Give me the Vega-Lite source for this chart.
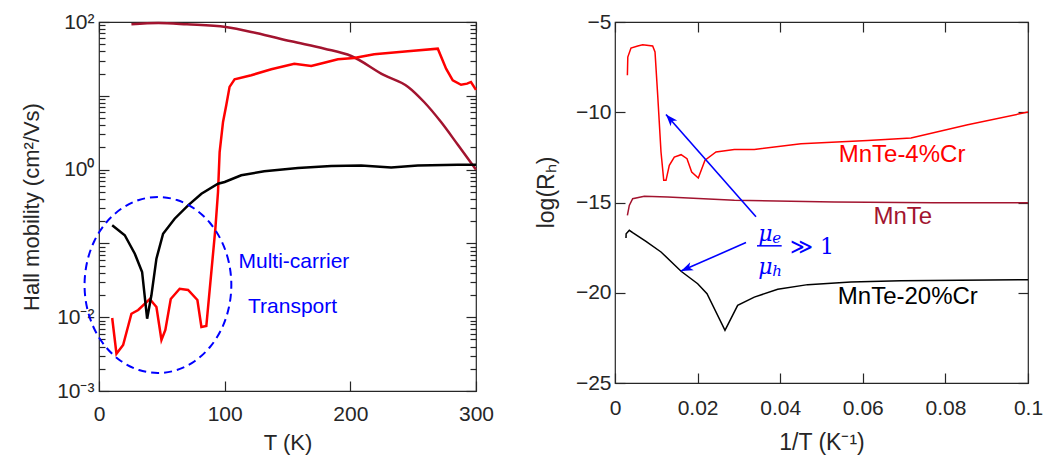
{
  "$schema": "https://vega.github.io/schema/vega-lite/v6.json",
  "padding": {"left": 19, "top": 10, "right": 0, "bottom": 0},
  "background": "white",
  "bounds": "flush",
  "spacing": 139,
  "config": {
    "axis": {"domain": false, "grid": false, "labelFont": "Liberation Sans", "labelFontSize": 21, "labelColor": "#262626", "tickColor": "#262626", "tickWidth": 1.2, "titleFont": "Liberation Sans", "titleFontSize": 22, "titleFontWeight": "normal", "titleColor": "#262626"},
    "view": {"stroke": "#262626", "strokeWidth": 1.2}
  },
  "datasets": {
    "left": [
      {"s": "MnTe", "T": 25.8, "mu": 93},
      {"s": "MnTe", "T": 47.3, "mu": 97},
      {"s": "MnTe", "T": 70, "mu": 93},
      {"s": "MnTe", "T": 100.8, "mu": 85.5},
      {"s": "MnTe", "T": 125, "mu": 71},
      {"s": "MnTe", "T": 153, "mu": 54.7},
      {"s": "MnTe", "T": 179.5, "mu": 43.5},
      {"s": "MnTe", "T": 200.7, "mu": 34.6},
      {"s": "MnTe", "T": 226.9, "mu": 19},
      {"s": "MnTe", "T": 246, "mu": 13.2},
      {"s": "MnTe", "T": 258.7, "mu": 8.24},
      {"s": "MnTe", "T": 272.2, "mu": 4.41},
      {"s": "MnTe", "T": 285.7, "mu": 2.15},
      {"s": "MnTe", "T": 300, "mu": 1.0},
      {"s": "MnTe-4%Cr", "T": 10.5, "mu": 0.00975},
      {"s": "MnTe-4%Cr", "T": 13.9, "mu": 0.0032},
      {"s": "MnTe-4%Cr", "T": 19.2, "mu": 0.0042},
      {"s": "MnTe-4%Cr", "T": 25.8, "mu": 0.01114},
      {"s": "MnTe-4%Cr", "T": 31.2, "mu": 0.01253},
      {"s": "MnTe-4%Cr", "T": 40.4, "mu": 0.01766},
      {"s": "MnTe-4%Cr", "T": 45.7, "mu": 0.01375},
      {"s": "MnTe-4%Cr", "T": 49.7, "mu": 0.00491},
      {"s": "MnTe-4%Cr", "T": 52.8, "mu": 0.00671},
      {"s": "MnTe-4%Cr", "T": 57.1, "mu": 0.01766},
      {"s": "MnTe-4%Cr", "T": 64.2, "mu": 0.0243},
      {"s": "MnTe-4%Cr", "T": 70.9, "mu": 0.0234},
      {"s": "MnTe-4%Cr", "T": 78.3, "mu": 0.0171},
      {"s": "MnTe-4%Cr", "T": 81.5, "mu": 0.00736},
      {"s": "MnTe-4%Cr", "T": 85.4, "mu": 0.0076},
      {"s": "MnTe-4%Cr", "T": 92.6, "mu": 0.158},
      {"s": "MnTe-4%Cr", "T": 94.7, "mu": 0.497},
      {"s": "MnTe-4%Cr", "T": 96, "mu": 1.73},
      {"s": "MnTe-4%Cr", "T": 98.7, "mu": 4.42},
      {"s": "MnTe-4%Cr", "T": 101.3, "mu": 7.5},
      {"s": "MnTe-4%Cr", "T": 103.9, "mu": 13.2},
      {"s": "MnTe-4%Cr", "T": 107.9, "mu": 16.7},
      {"s": "MnTe-4%Cr", "T": 121.2, "mu": 19},
      {"s": "MnTe-4%Cr", "T": 137.1, "mu": 22.9},
      {"s": "MnTe-4%Cr", "T": 155.4, "mu": 27.2},
      {"s": "MnTe-4%Cr", "T": 168.9, "mu": 25.3},
      {"s": "MnTe-4%Cr", "T": 179.2, "mu": 28.1},
      {"s": "MnTe-4%Cr", "T": 190.1, "mu": 31.3},
      {"s": "MnTe-4%Cr", "T": 203, "mu": 32.5},
      {"s": "MnTe-4%Cr", "T": 219, "mu": 36.5},
      {"s": "MnTe-4%Cr", "T": 245.7, "mu": 40.1},
      {"s": "MnTe-4%Cr", "T": 269.6, "mu": 43.5},
      {"s": "MnTe-4%Cr", "T": 276.2, "mu": 23.3},
      {"s": "MnTe-4%Cr", "T": 281.5, "mu": 16.2},
      {"s": "MnTe-4%Cr", "T": 288.1, "mu": 14.1},
      {"s": "MnTe-4%Cr", "T": 292.9, "mu": 14.6},
      {"s": "MnTe-4%Cr", "T": 296, "mu": 15.4},
      {"s": "MnTe-4%Cr", "T": 300, "mu": 12},
      {"s": "MnTe-20%Cr", "T": 10.5, "mu": 0.176},
      {"s": "MnTe-20%Cr", "T": 20.5, "mu": 0.129},
      {"s": "MnTe-20%Cr", "T": 28.5, "mu": 0.0725},
      {"s": "MnTe-20%Cr", "T": 34.3, "mu": 0.041},
      {"s": "MnTe-20%Cr", "T": 38.3, "mu": 0.00955},
      {"s": "MnTe-20%Cr", "T": 41.7, "mu": 0.0198},
      {"s": "MnTe-20%Cr", "T": 45.7, "mu": 0.0621},
      {"s": "MnTe-20%Cr", "T": 51, "mu": 0.135},
      {"s": "MnTe-20%Cr", "T": 60.2, "mu": 0.216},
      {"s": "MnTe-20%Cr", "T": 70.9, "mu": 0.328},
      {"s": "MnTe-20%Cr", "T": 81.5, "mu": 0.471},
      {"s": "MnTe-20%Cr", "T": 94.7, "mu": 0.644},
      {"s": "MnTe-20%Cr", "T": 100, "mu": 0.679},
      {"s": "MnTe-20%Cr", "T": 113.2, "mu": 0.837},
      {"s": "MnTe-20%Cr", "T": 131.5, "mu": 0.949},
      {"s": "MnTe-20%Cr", "T": 158.3, "mu": 1.05},
      {"s": "MnTe-20%Cr", "T": 184.8, "mu": 1.12},
      {"s": "MnTe-20%Cr", "T": 208.6, "mu": 1.14},
      {"s": "MnTe-20%Cr", "T": 232.5, "mu": 1.07},
      {"s": "MnTe-20%Cr", "T": 253.7, "mu": 1.14},
      {"s": "MnTe-20%Cr", "T": 285.5, "mu": 1.16},
      {"s": "MnTe-20%Cr", "T": 300, "mu": 1.16}
    ],
    "ellipse": [
      {"i": 0, "T": 105.3, "mu": 0.02731},
      {"i": 1, "T": 103.3, "mu": 0.05559},
      {"i": 2, "T": 97.5, "mu": 0.1078},
      {"i": 3, "T": 88.2, "mu": 0.1904},
      {"i": 4, "T": 76.1, "mu": 0.2944},
      {"i": 5, "T": 62.0, "mu": 0.3873},
      {"i": 6, "T": 46.9, "mu": 0.4253},
      {"i": 7, "T": 31.8, "mu": 0.3873},
      {"i": 8, "T": 17.7, "mu": 0.2944},
      {"i": 9, "T": 5.6, "mu": 0.1904},
      {"i": 10, "T": -3.7, "mu": 0.1078},
      {"i": 11, "T": -9.5, "mu": 0.05559},
      {"i": 12, "T": -11.5, "mu": 0.02731},
      {"i": 13, "T": -9.5, "mu": 0.01341},
      {"i": 14, "T": -3.7, "mu": 0.00692},
      {"i": 15, "T": 5.6, "mu": 0.003917},
      {"i": 16, "T": 17.7, "mu": 0.002533},
      {"i": 17, "T": 31.8, "mu": 0.001926},
      {"i": 18, "T": 46.9, "mu": 0.001753},
      {"i": 19, "T": 62.0, "mu": 0.001926},
      {"i": 20, "T": 76.1, "mu": 0.002533},
      {"i": 21, "T": 88.2, "mu": 0.003917},
      {"i": 22, "T": 97.5, "mu": 0.00692},
      {"i": 23, "T": 103.3, "mu": 0.01341}
    ],
    "right": [
      {"s": "MnTe-4%Cr", "x": 0.0030, "v": -7.95},
      {"s": "MnTe-4%Cr", "x": 0.0031, "v": -6.94},
      {"s": "MnTe-4%Cr", "x": 0.00387, "v": -6.44},
      {"s": "MnTe-4%Cr", "x": 0.0055, "v": -6.33},
      {"s": "MnTe-4%Cr", "x": 0.0067, "v": -6.26},
      {"s": "MnTe-4%Cr", "x": 0.00912, "v": -6.33},
      {"s": "MnTe-4%Cr", "x": 0.00969, "v": -6.66},
      {"s": "MnTe-4%Cr", "x": 0.01034, "v": -9.06},
      {"s": "MnTe-4%Cr", "x": 0.01114, "v": -12.2},
      {"s": "MnTe-4%Cr", "x": 0.0118, "v": -13.77},
      {"s": "MnTe-4%Cr", "x": 0.01235, "v": -13.77},
      {"s": "MnTe-4%Cr", "x": 0.01315, "v": -12.94},
      {"s": "MnTe-4%Cr", "x": 0.01436, "v": -12.48},
      {"s": "MnTe-4%Cr", "x": 0.016, "v": -12.35},
      {"s": "MnTe-4%Cr", "x": 0.01743, "v": -12.57},
      {"s": "MnTe-4%Cr", "x": 0.01857, "v": -13.31},
      {"s": "MnTe-4%Cr", "x": 0.02017, "v": -13.64},
      {"s": "MnTe-4%Cr", "x": 0.02179, "v": -12.66},
      {"s": "MnTe-4%Cr", "x": 0.02446, "v": -12.2},
      {"s": "MnTe-4%Cr", "x": 0.02889, "v": -12.07},
      {"s": "MnTe-4%Cr", "x": 0.03373, "v": -12.06},
      {"s": "MnTe-4%Cr", "x": 0.04504, "v": -11.74},
      {"s": "MnTe-4%Cr", "x": 0.0612, "v": -11.56},
      {"s": "MnTe-4%Cr", "x": 0.07167, "v": -11.43},
      {"s": "MnTe-4%Cr", "x": 0.0854, "v": -10.69},
      {"s": "MnTe-4%Cr", "x": 0.1, "v": -9.99},
      {"s": "MnTe", "x": 0.0030, "v": -15.71},
      {"s": "MnTe", "x": 0.00346, "v": -15.16},
      {"s": "MnTe", "x": 0.00428, "v": -14.79},
      {"s": "MnTe", "x": 0.0071, "v": -14.66},
      {"s": "MnTe", "x": 0.01276, "v": -14.70},
      {"s": "MnTe", "x": 0.0289, "v": -14.88},
      {"s": "MnTe", "x": 0.0531, "v": -14.97},
      {"s": "MnTe", "x": 0.0772, "v": -15.01},
      {"s": "MnTe", "x": 0.1, "v": -15.01},
      {"s": "MnTe-20%Cr", "x": 0.00266, "v": -16.97},
      {"s": "MnTe-20%Cr", "x": 0.0027, "v": -16.73},
      {"s": "MnTe-20%Cr", "x": 0.00347, "v": -16.54},
      {"s": "MnTe-20%Cr", "x": 0.00428, "v": -16.67},
      {"s": "MnTe-20%Cr", "x": 0.0075, "v": -17.15},
      {"s": "MnTe-20%Cr", "x": 0.01114, "v": -17.74},
      {"s": "MnTe-20%Cr", "x": 0.016, "v": -18.81},
      {"s": "MnTe-20%Cr", "x": 0.02002, "v": -19.5},
      {"s": "MnTe-20%Cr", "x": 0.02228, "v": -20.05},
      {"s": "MnTe-20%Cr", "x": 0.02663, "v": -22.08},
      {"s": "MnTe-20%Cr", "x": 0.0297, "v": -20.7},
      {"s": "MnTe-20%Cr", "x": 0.03373, "v": -20.24},
      {"s": "MnTe-20%Cr", "x": 0.0394, "v": -19.81},
      {"s": "MnTe-20%Cr", "x": 0.04666, "v": -19.55},
      {"s": "MnTe-20%Cr", "x": 0.0571, "v": -19.40},
      {"s": "MnTe-20%Cr", "x": 0.06925, "v": -19.33},
      {"s": "MnTe-20%Cr", "x": 0.1, "v": -19.28}
    ],
    "rightlabels": [
      {"s": "MnTe-4%Cr", "x": 0.0695, "v": -12.35},
      {"s": "MnTe", "x": 0.0697, "v": -15.79},
      {"s": "MnTe-20%Cr", "x": 0.0709, "v": -20.23}
    ]
  },
  "hconcat": [
    {
      "width": 377,
      "height": 369,
      "layer": [
        {
          "data": {"name": "left"},
          "transform": [{"filter": "datum.s == 'MnTe'"}],
          "mark": {"type": "line", "strokeWidth": 2.5, "interpolate": "monotone"},
          "encoding": {
            "x": {"field": "T", "type": "quantitative", "scale": {"domain": [0, 300], "nice": false},
              "axis": {"orient": "bottom", "values": [0, 100, 200, 300], "ticks": false, "labelFlush": false, "labelPadding": 12, "title": "T (K)", "titleY": 51, "titleBaseline": "middle"}},
            "y": {"field": "mu", "type": "quantitative", "scale": {"type": "log", "domain": [0.001, 100], "nice": false},
              "axis": {"orient": "left", "values": [0.001, 0.01, 1, 100], "ticks": false, "labelOverlap": false, "labelPadding": 5,
                "labelExpr": "datum.value > 99 ? '10²' : (datum.value > 0.9 && datum.value < 1.1) ? '10⁰' : (datum.value > 0.009 && datum.value < 0.011) ? '10⁻²' : datum.value < 0.0011 ? '10⁻³' : ''",
                "title": "Hall mobility (cm²/Vs)", "titleX": -68, "titleY": 184.5, "titleAngle": 270, "titleAlign": "center", "titleBaseline": "middle"}},
            "color": {"field": "s", "type": "nominal", "scale": {"domain": ["MnTe", "MnTe-4%Cr", "MnTe-20%Cr"], "range": ["#A2142F", "#FF0000", "#000000"]}, "legend": null}
          }
        },
        {
          "data": {"name": "left"},
          "transform": [{"filter": "datum.s != 'MnTe'"}],
          "mark": {"type": "line", "strokeWidth": 2.5},
          "encoding": {
            "x": {"field": "T", "type": "quantitative", "scale": {"domain": [0, 300], "nice": false},
              "axis": {"orient": "bottom", "values": [0, 100, 200, 300], "offset": -10, "tickSize": 10, "labels": false, "title": null}},
            "y": {"field": "mu", "type": "quantitative", "scale": {"type": "log", "domain": [0.001, 100], "nice": false},
              "axis": {"orient": "left", "values": [0.001, 0.01, 0.1, 1, 10, 100], "offset": -10, "tickSize": 10, "labels": false, "title": null}},
            "color": {"field": "s", "type": "nominal", "scale": {"domain": ["MnTe", "MnTe-4%Cr", "MnTe-20%Cr"], "range": ["#A2142F", "#FF0000", "#000000"]}, "legend": null}
          }
        },
        {
          "data": {"name": "ellipse"},
          "mark": {"type": "line", "interpolate": "cardinal-closed", "strokeDash": [8, 5], "strokeWidth": 2, "color": "#0000FF", "clip": false},
          "encoding": {
            "x": {"field": "T", "type": "quantitative", "scale": {"domain": [0, 300], "nice": false},
              "axis": {"orient": "top", "values": [0, 100, 200, 300], "offset": -10, "tickSize": 10, "labels": false, "title": null}},
            "y": {"field": "mu", "type": "quantitative", "scale": {"type": "log", "domain": [0.001, 100], "nice": false},
              "axis": {"orient": "right", "values": [0.001, 0.01, 0.1, 1, 10, 100], "offset": -10, "tickSize": 10, "labels": false, "title": null}},
            "order": {"field": "i", "type": "quantitative"}
          }
        },
        {
          "data": {"values": [{"T": 111, "mu": 0.056, "t": "Multi-carrier"}]},
          "mark": {"type": "text", "align": "left", "baseline": "middle", "fontSize": 21, "font": "Liberation Sans", "color": "#0000FF"},
          "encoding": {
            "x": {"field": "T", "type": "quantitative", "scale": {"domain": [0, 300], "nice": false}, "axis": null},
            "y": {"field": "mu", "type": "quantitative", "scale": {"type": "log", "domain": [0.001, 100], "nice": false},
              "axis": {"orient": "left", "values": [0.002, 0.003, 0.004, 0.005, 0.006, 0.007, 0.008, 0.009, 0.02, 0.03, 0.04, 0.05, 0.06, 0.07, 0.08, 0.09, 0.2, 0.3, 0.4, 0.5, 0.6, 0.7, 0.8, 0.9, 2, 3, 4, 5, 6, 7, 8, 9, 20, 30, 40, 50, 60, 70, 80, 90], "offset": -6, "tickSize": 6, "labels": false, "title": null}},
            "text": {"field": "t"}
          }
        },
        {
          "data": {"values": [{"T": 118.6, "mu": 0.01374, "t": "Transport"}]},
          "mark": {"type": "text", "align": "left", "baseline": "middle", "fontSize": 21, "font": "Liberation Sans", "color": "#0000FF"},
          "encoding": {
            "x": {"field": "T", "type": "quantitative", "scale": {"domain": [0, 300], "nice": false}, "axis": null},
            "y": {"field": "mu", "type": "quantitative", "scale": {"type": "log", "domain": [0.001, 100], "nice": false},
              "axis": {"orient": "right", "values": [0.002, 0.003, 0.004, 0.005, 0.006, 0.007, 0.008, 0.009, 0.02, 0.03, 0.04, 0.05, 0.06, 0.07, 0.08, 0.09, 0.2, 0.3, 0.4, 0.5, 0.6, 0.7, 0.8, 0.9, 2, 3, 4, 5, 6, 7, 8, 9, 20, 30, 40, 50, 60, 70, 80, 90], "offset": -6, "tickSize": 6, "labels": false, "title": null}},
            "text": {"field": "t"}
          }
        }
      ],
      "resolve": {"axis": {"x": "independent", "y": "independent"}}
    },
    {
      "width": 413,
      "height": 361,
      "layer": [
        {
          "data": {"name": "right"},
          "mark": {"type": "line", "strokeWidth": 1.5},
          "encoding": {
            "x": {"field": "x", "type": "quantitative", "scale": {"domain": [0, 0.1], "nice": false},
              "axis": {"orient": "bottom", "values": [0, 0.02, 0.04, 0.06, 0.08, 0.1], "format": "~g", "ticks": false, "labelFlush": false, "labelPadding": 14, "title": "1/T (K⁻¹)", "titleFontSize": 23, "titleY": 59, "titleBaseline": "middle"}},
            "y": {"field": "v", "type": "quantitative", "scale": {"domain": [-25, -5], "nice": false},
              "axis": {"orient": "left", "values": [-25, -20, -15, -10, -5], "ticks": false, "labelPadding": 4,
                "title": "log(Rₕ)", "titleFontSize": 23, "titleX": -69, "titleY": 170, "titleAngle": 270, "titleAlign": "center", "titleBaseline": "middle"}},
            "color": {"field": "s", "type": "nominal", "scale": {"domain": ["MnTe", "MnTe-4%Cr", "MnTe-20%Cr"], "range": ["#A2142F", "#FF0000", "#000000"]}, "legend": null}
          }
        },
        {
          "data": {"name": "rightlabels"},
          "mark": {"type": "text", "align": "center", "baseline": "middle", "fontSize": 24, "font": "Liberation Sans"},
          "encoding": {
            "x": {"field": "x", "type": "quantitative", "scale": {"domain": [0, 0.1], "nice": false},
              "axis": {"orient": "bottom", "values": [0, 0.02, 0.04, 0.06, 0.08, 0.1], "offset": -10, "tickSize": 10, "labels": false, "title": null}},
            "y": {"field": "v", "type": "quantitative", "scale": {"domain": [-25, -5], "nice": false},
              "axis": {"orient": "left", "values": [-25, -20, -15, -10, -5], "offset": -10, "tickSize": 10, "labels": false, "title": null}},
            "text": {"field": "s"},
            "color": {"field": "s", "type": "nominal", "scale": {"domain": ["MnTe", "MnTe-4%Cr", "MnTe-20%Cr"], "range": ["#A2142F", "#FF0000", "#000000"]}, "legend": null}
          }
        },
        {
          "data": {"values": [
            {"x": 0.03414, "v": -15.79, "x2": 0.01235, "v2": -10.12},
            {"x": 0.03172, "v": -17.22, "x2": 0.01598, "v2": -18.80}
          ]},
          "mark": {"type": "rule", "color": "#0000FF", "strokeWidth": 1.6},
          "encoding": {
            "x": {"field": "x", "type": "quantitative", "scale": {"domain": [0, 0.1], "nice": false},
              "axis": {"orient": "top", "values": [0, 0.02, 0.04, 0.06, 0.08, 0.1], "offset": -10, "tickSize": 10, "labels": false, "title": null}},
            "y": {"field": "v", "type": "quantitative", "scale": {"domain": [-25, -5], "nice": false},
              "axis": {"orient": "right", "values": [-25, -20, -15, -10, -5], "offset": -10, "tickSize": 10, "labels": false, "title": null}},
            "x2": {"field": "x2"},
            "y2": {"field": "v2"}
          }
        },
        {
          "data": {"values": [{"x": 0.01235, "v": -10.12}]},
          "mark": {"type": "point", "shape": "M0,0 L0.55,1.5 L0,1.1 L-0.55,1.5 Z", "filled": true, "color": "#0000FF", "opacity": 1, "size": 256, "angle": 318.6, "strokeWidth": 0},
          "encoding": {
            "x": {"field": "x", "type": "quantitative", "scale": {"domain": [0, 0.1], "nice": false}, "axis": null},
            "y": {"field": "v", "type": "quantitative", "scale": {"domain": [-25, -5], "nice": false}, "axis": null}
          }
        },
        {
          "data": {"values": [{"x": 0.01598, "v": -18.80}]},
          "mark": {"type": "point", "shape": "M0,0 L0.55,1.5 L0,1.1 L-0.55,1.5 Z", "filled": true, "color": "#0000FF", "opacity": 1, "size": 256, "angle": 246.2, "strokeWidth": 0},
          "encoding": {
            "x": {"field": "x", "type": "quantitative", "scale": {"domain": [0, 0.1], "nice": false}, "axis": null},
            "y": {"field": "v", "type": "quantitative", "scale": {"domain": [-25, -5], "nice": false}, "axis": null}
          }
        },
        {
          "data": {"values": [{"x": 0.03438, "x2": 0.04036, "v": -17.40}]},
          "mark": {"type": "rule", "color": "#0000FF", "strokeWidth": 1.5},
          "encoding": {
            "x": {"field": "x", "type": "quantitative", "scale": {"domain": [0, 0.1], "nice": false}, "axis": null},
            "x2": {"field": "x2"},
            "y": {"field": "v", "type": "quantitative", "scale": {"domain": [-25, -5], "nice": false}, "axis": null}
          }
        },
        {
          "data": {"values": [{"x": 0.03736, "v": -16.77, "t": "μ"}, {"x": 0.03736, "v": -18.56, "t": "μ"}]},
          "mark": {"type": "text", "align": "center", "baseline": "middle", "dx": -4, "fontSize": 22, "font": "DejaVu Serif", "fontStyle": "italic", "color": "#0000FF"},
          "encoding": {
            "x": {"field": "x", "type": "quantitative", "scale": {"domain": [0, 0.1], "nice": false}, "axis": null},
            "y": {"field": "v", "type": "quantitative", "scale": {"domain": [-25, -5], "nice": false}, "axis": null},
            "text": {"field": "t"}
          }
        },
        {
          "data": {"values": [{"x": 0.03736, "v": -16.77, "t": "e"}, {"x": 0.03736, "v": -18.56, "t": "h"}]},
          "mark": {"type": "text", "align": "left", "baseline": "middle", "dx": 3, "dy": 4, "fontSize": 15, "font": "DejaVu Serif", "fontStyle": "italic", "color": "#0000FF"},
          "encoding": {
            "x": {"field": "x", "type": "quantitative", "scale": {"domain": [0, 0.1], "nice": false}, "axis": null},
            "y": {"field": "v", "type": "quantitative", "scale": {"domain": [-25, -5], "nice": false}, "axis": null},
            "text": {"field": "t"}
          }
        },
        {
          "data": {"values": [{"x": 0.04237, "v": -17.45, "t": "≫ 1"}]},
          "mark": {"type": "text", "align": "left", "baseline": "middle", "fontSize": 22, "font": "DejaVu Serif", "color": "#0000FF"},
          "encoding": {
            "x": {"field": "x", "type": "quantitative", "scale": {"domain": [0, 0.1], "nice": false}, "axis": null},
            "y": {"field": "v", "type": "quantitative", "scale": {"domain": [-25, -5], "nice": false}, "axis": null},
            "text": {"field": "t"}
          }
        }
      ],
      "resolve": {"axis": {"x": "independent", "y": "independent"}}
    }
  ]
}
